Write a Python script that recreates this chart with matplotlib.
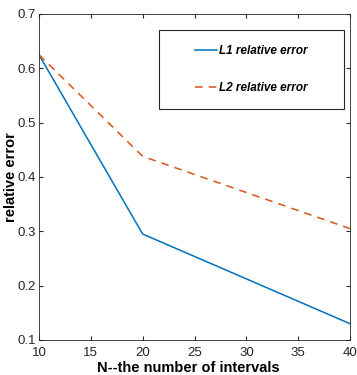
import matplotlib
matplotlib.use("Agg")
import matplotlib.pyplot as plt
from matplotlib.patches import Rectangle

N = [10, 20, 40]
err_l1 = [0.625, 0.295, 0.130]
err_l2 = [0.625, 0.438, 0.305]

plt.rcParams["font.family"] = ["Liberation Sans", "DejaVu Sans"]

fig = plt.figure(figsize=(3.57, 3.75), dpi=100)
ax = fig.add_axes([39 / 357, 35 / 375, 311 / 357, 326 / 375])
ax.plot(N, err_l1, color="#0072bd", lw=1.1, label="L1 relative error")
ax.plot(N, err_l2, color="#d95319", lw=1.1, ls=(0, (5, 4)), label="L2 relative error")
ax.set_xlim(10, 40)
ax.set_ylim(0.1, 0.7)
ax.set_xticks([10, 15, 20, 25, 30, 35, 40])
ax.set_yticks([0.1, 0.2, 0.3, 0.4, 0.5, 0.6, 0.7])
ax.set_yticklabels(["0.1", "0.2", "0.3", "0.4", "0.5", "0.6", "0.7"])
ax.tick_params(direction="in", top=True, right=True, labelsize=9.5, length=3,
               colors="#262626", pad=2)
ax.tick_params(axis="x", pad=5)
for s in ax.spines.values():
    s.set_color("#262626")
    s.set_linewidth(0.6)
ax.set_xlabel("N--the number of intervals", fontsize=10.5, fontweight="bold", va="top")
ax.xaxis.set_label_coords(0.48, -0.064)
ax.set_ylabel("relative error", fontsize=10.5, fontweight="bold")
ax.yaxis.set_label_coords(-0.068, 0.5)

# caja de la leyenda dibujada aparte, leyenda sin marco centrada dentro
x0, x1 = (159 - 39) / 311, (344 - 39) / 311
y0, y1 = (340 - 109) / 326, (340 - 30) / 326
ax.add_patch(Rectangle((x0, y0), x1 - x0, y1 - y0, transform=ax.transAxes,
                       fill=True, facecolor="white", edgecolor="#262626", lw=0.8, zorder=5))
leg = ax.legend(loc="center", bbox_to_anchor=((x0 + x1) / 2, (y0 + y1) / 2),
                prop={"weight": "bold", "style": "italic", "size": 8.5},
                frameon=False, borderpad=0, labelspacing=2.1, handlelength=1.8,
                handletextpad=0.2, borderaxespad=0)
leg.set_zorder(6)
fig.savefig("out.png", dpi=100)
